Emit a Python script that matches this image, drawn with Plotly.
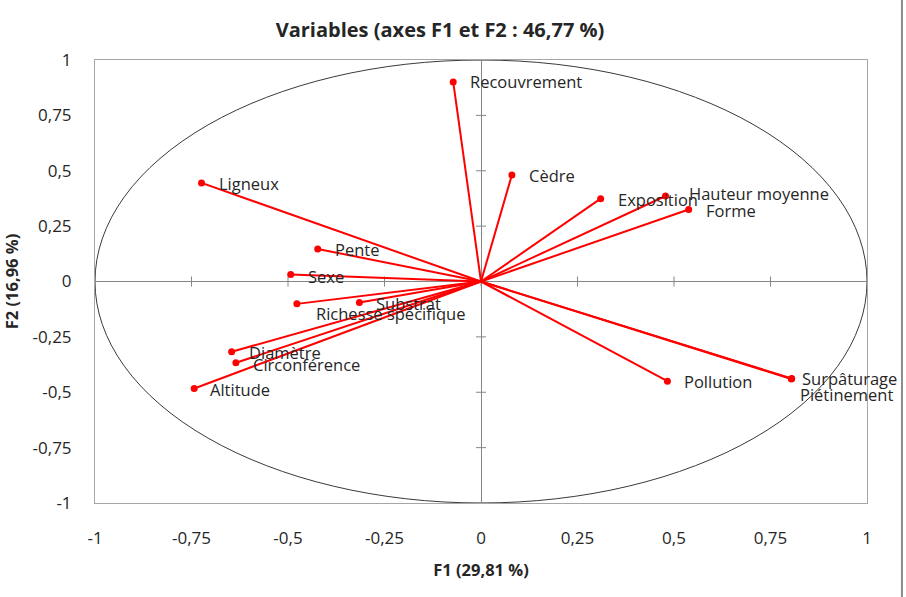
import plotly.graph_objects as go

# ---- data ----
variables = ["Recouvrement", "Cèdre", "Exposition", "Hauteur moyenne", "Forme",
             "Ligneux", "Pente", "Sexe", "Substrat", "Richesse spécifique",
             "Diamètre", "Circonférence", "Altitude", "Pollution",
             "Surpâturage", "Piétinement"]
f1 = [-0.072, 0.080, 0.310, 0.478, 0.538,
      -0.724, -0.423, -0.493, -0.315, -0.477,
      -0.646, -0.635, -0.743, 0.483,
      0.805, 0.804]
f2 = [0.901, 0.481, 0.374, 0.386, 0.325,
      0.445, 0.147, 0.032, -0.095, -0.101,
      -0.317, -0.367, -0.483, -0.450,
      -0.438, -0.440]
tick_vals = [-1, -0.75, -0.5, -0.25, 0, 0.25, 0.5, 0.75, 1]
tick_text = ["-1", "-0,75", "-0,5", "-0,25", "0", "0,25", "0,5", "0,75", "1"]

# ---- label offsets in pixels (style) ----
label_shift = {
    "Recouvrement": (15, 0), "Cèdre": (15, -1), "Exposition": (15, -1),
    "Hauteur moyenne": (21, 3), "Forme": (15, -1), "Ligneux": (15, -1),
    "Pente": (15, -1), "Sexe": (15, -2), "Substrat": (15, -1),
    "Richesse spécifique": (17, -10), "Diamètre": (15, -1),
    "Circonférence": (15, -2), "Altitude": (14, -1), "Pollution": (15, 0),
    "Surpâturage": (8, 0), "Piétinement": (7, -16),
}

FONT = "Open Sans"
TXT = "#262626"
RED = "#FF0000"
GREY = "#868686"

fig = go.Figure()

# vectors from origin
lx, ly = [], []
for x, y in zip(f1, f2):
    lx += [0, x, None]
    ly += [0, y, None]
fig.add_trace(go.Scatter(x=lx, y=ly, mode="lines",
                         line=dict(color=RED, width=2), hoverinfo="skip",
                         showlegend=False))
fig.add_trace(go.Scatter(x=f1, y=f2, mode="markers", text=variables,
                         marker=dict(color=RED, size=7), showlegend=False))

# correlation circle
fig.add_shape(type="circle", xref="x", yref="y", x0=-1, x1=1, y0=-1, y1=1,
              line=dict(color="#3a3a3a", width=1), layer="below")

# cross tick marks on the zero axes
for v in tick_vals:
    fig.add_shape(type="line", xref="x", yref="y", x0=v, x1=v,
                  ysizemode="pixel", yanchor=0, y0=-5, y1=5,
                  line=dict(color=GREY, width=1), layer="below")
    fig.add_shape(type="line", xref="x", yref="y", y0=v, y1=v,
                  xsizemode="pixel", xanchor=0, x0=-5, x1=5,
                  line=dict(color=GREY, width=1), layer="below")

# right border of chart area
fig.add_shape(type="line", xref="paper", yref="paper",
              x0=1.0453, x1=1.0453, y0=-0.3, y1=1.2,
              line=dict(color="#8c8c8c", width=2))

for name, x, y in zip(variables, f1, f2):
    dx, dy = label_shift[name]
    fig.add_annotation(x=x, y=y, text=name, showarrow=False,
                       xanchor="left", yanchor="middle", xshift=dx, yshift=dy,
                       font=dict(family=FONT, size=16.5, color=TXT))

axis_common = dict(range=[-1, 1], tickvals=tick_vals, ticktext=tick_text,
                   showgrid=False, zeroline=True, zerolinecolor=GREY,
                   zerolinewidth=1, showline=True, mirror=True,
                   linecolor="#a6a6a6", linewidth=1, ticks="",
                   tickfont=dict(family=FONT, size=17, color=TXT))

fig.update_layout(
    width=906, height=597,
    margin=dict(l=95, r=39, t=60, b=94),
    plot_bgcolor="white", paper_bgcolor="white",
    title=dict(text="<b>Variables (axes F1 et F2 : 46,77 %)</b>",
               x=440 / 906, xref="container", xanchor="center",
               y=1 - 30 / 597, yref="container", yanchor="middle",
               font=dict(family=FONT, size=20, color=TXT)),
    xaxis=dict(**axis_common, ticklabelstandoff=20,
               title=dict(text="<b>F1 (29,81 %)</b>", standoff=16,
                          font=dict(family=FONT, size=16.5, color=TXT))),
    yaxis=dict(**axis_common, ticklabelstandoff=19,
               title=dict(text="<b>F2 (16,96 %)</b>", standoff=10,
                          font=dict(family=FONT, size=16.5, color=TXT))),
    hovermode="closest",
)

fig.write_html("out.html")
